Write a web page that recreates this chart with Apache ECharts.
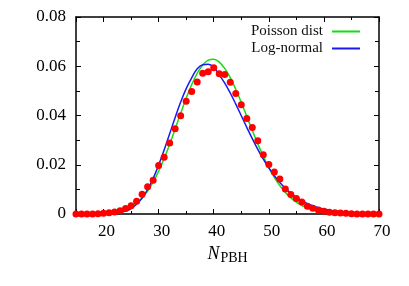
<!DOCTYPE html>
<html>
<head>
<meta charset="utf-8">
<script src="https://cdn.jsdelivr.net/npm/echarts@6/dist/echarts.min.js"></script>
<style>html,body{margin:0;padding:0;background:#fff}#c{width:409px;height:286px}</style>
</head>
<body>
<div id="c"></div>
<script>
const nPBH = [15,16,17,18,19,20,21,22,23,24,25,26,27,28,29,30,31,32,33,34,35,36,37,38,39,40,41,42,43,44,45,46,47,48,49,50,51,52,53,54,55,56,57,58,59,60,61,62,63,64,65,66,67,68,69,70];
const simData = [0,0,0,0,0.0001,0.0003,0.0005,0.0008,0.0013,0.0022,0.0034,0.0052,0.0080,0.0111,0.0137,0.0197,0.0230,0.0288,0.0346,0.0399,0.0458,0.0497,0.0536,0.0572,0.0578,0.0594,0.0570,0.0566,0.0535,0.0489,0.0444,0.0388,0.0351,0.0297,0.0241,0.0201,0.0171,0.0142,0.0102,0.0079,0.0063,0.0049,0.0031,0.0023,0.0016,0.0011,0.0007,0.0005,0.0004,0.0003,0.0001,0,0,0,0,0];
const poisson = [0,0.00001,0.00002,0.00005,0.0001,0.00018,0.00033,0.0006,0.00105,0.00175,0.0028,0.00436,0.0065,0.00933,0.01295,0.01736,0.02253,0.02833,0.03455,0.04089,0.04701,0.05255,0.05715,0.06053,0.06247,0.06285,0.0617,0.05913,0.05536,0.05064,0.04531,0.03965,0.03396,0.02849,0.02341,0.01885,0.01488,0.01152,0.00875,0.00653,0.00478,0.00344,0.00243,0.00169,0.00115,0.00078,0.00052,0.00034,0.00021,0.00013,0.00008,0.00005,0.00003,0.00002,0.00001,0.00001];
const logNormal = [0,0,0.000001,0.000004,0.000012,0.00003,0.00009,0.00024,0.00056,0.00117,0.00223,0.00394,0.00647,0.00995,0.01444,0.01985,0.0260,0.03258,0.0392,0.04545,0.05093,0.05531,0.0590,0.0606,0.0608,0.0596,0.05651,0.05317,0.04913,0.04464,0.03992,0.03519,0.0306,0.02627,0.02229,0.0187,0.01553,0.01277,0.01041,0.00841,0.00674,0.00537,0.00424,0.00333,0.0026,0.00201,0.00155,0.00119,0.00091,0.00069,0.00052,0.0004,0.0003,0.00022,0.00017,0.00012];
const yTicks = ['0','0.02','0.04','0.06','0.08'];

const FONT = 'Liberation Serif';
const pair = arr => nPBH.map((x, i) => [x, arr[i]]);
const chart = echarts.init(document.getElementById('c'), null, {renderer: 'canvas'});
const frame = {show: true, lineStyle: {color: '#000', width: 1.5}};
const baseX = {type: 'value', min: 15, max: 70, splitLine: {show: false}};
const tickLabel = {fontFamily: FONT, fontSize: 17, color: '#000'};
chart.setOption({
  animation: false,
  backgroundColor: '#fff',
  textStyle: {fontFamily: FONT},
  grid: {left: 76, right: 30, top: 17, bottom: 72},
  legend: {
    orient: 'vertical', right: 44, top: 19, align: 'right',
    icon: 'rect', itemWidth: 28, itemHeight: 2, itemGap: 2,
    data: ['Poisson dist', 'Log-normal'],
    textStyle: {fontFamily: FONT, fontSize: 15, lineHeight: 14, color: '#111', padding: [0, 4, 0, 0]}
  },
  xAxis: [
    Object.assign({}, baseX, {
      position: 'bottom',
      axisLine: frame,
      axisTick: {show: true, inside: true, length: 5, lineStyle: {color: '#000', width: 1}},
      axisLabel: {
        margin: 9,
        formatter: v => (v % 10 === 0 ? '{t|' + v + '}' : ''),
        rich: {t: Object.assign({padding: [0, 0, 0, 6]}, tickLabel)}
      },
      name: '{i|N}{s|PBH}',
      nameLocation: 'middle', nameGap: 30,
      nameTextStyle: {
        rich: {
          i: {fontFamily: FONT, fontStyle: 'italic', fontSize: 18, color: '#000'},
          s: {fontFamily: FONT, fontSize: 14, color: '#000', padding: [7, 0, 0, 1]}
        }
      }
    }),
    Object.assign({}, baseX, {
      position: 'bottom', interval: 5,
      axisLine: {show: false},
      axisTick: {show: true, inside: true, length: 3, lineStyle: {color: '#000', width: 1}},
      axisLabel: {show: false}
    }),
    Object.assign({}, baseX, {
      position: 'top',
      axisLine: frame,
      axisTick: {show: true, inside: true, length: 5, lineStyle: {color: '#000', width: 1}},
      axisLabel: {show: false}
    }),
    Object.assign({}, baseX, {
      position: 'top', interval: 5,
      axisLine: {show: false},
      axisTick: {show: true, inside: true, length: 3, lineStyle: {color: '#000', width: 1}},
      axisLabel: {show: false}
    })
  ],
  yAxis: [
    {
      type: 'value', min: 0, max: 0.08, interval: 0.02, position: 'left',
      axisLine: frame,
      splitLine: {show: false},
      axisTick: {show: true, inside: true, length: 5, lineStyle: {color: '#000', width: 1}},
      minorTick: {show: true, splitNumber: 2, length: 4, lineStyle: {color: '#000', width: 1}},
      axisLabel: {
        margin: 10,
        formatter: v => '{t|' + yTicks[Math.round(v / 0.02)] + '}',
        rich: {t: tickLabel}
      }
    },
    {
      type: 'value', min: 0, max: 0.08, interval: 0.02, position: 'right',
      axisLine: frame,
      splitLine: {show: false},
      axisTick: {show: true, inside: true, length: 5, lineStyle: {color: '#000', width: 1}},
      minorTick: {show: true, splitNumber: 2, length: 4, lineStyle: {color: '#000', width: 1}},
      axisLabel: {show: false}
    }
  ],
  series: [
    {
      name: 'Poisson dist', type: 'line', xAxisIndex: 0, yAxisIndex: 0,
      data: pair(poisson), smooth: 0.4, symbol: 'none', showSymbol: false,
      lineStyle: {color: '#11dd11', width: 1.5}, itemStyle: {color: '#11dd11'}, z: 3
    },
    {
      name: 'Log-normal', type: 'line', xAxisIndex: 0, yAxisIndex: 0,
      data: pair(logNormal), smooth: 0.4, symbol: 'none', showSymbol: false,
      lineStyle: {color: '#1a1aee', width: 1.5}, itemStyle: {color: '#1a1aee'}, z: 3
    },
    {
      name: 'Simulation', type: 'scatter', xAxisIndex: 0, yAxisIndex: 0,
      data: pair(simData), symbol: 'circle', symbolSize: 7,
      itemStyle: {color: '#ff0000', opacity: 1}, z: 4, clip: false
    }
  ]
});
</script>
</body>
</html>
